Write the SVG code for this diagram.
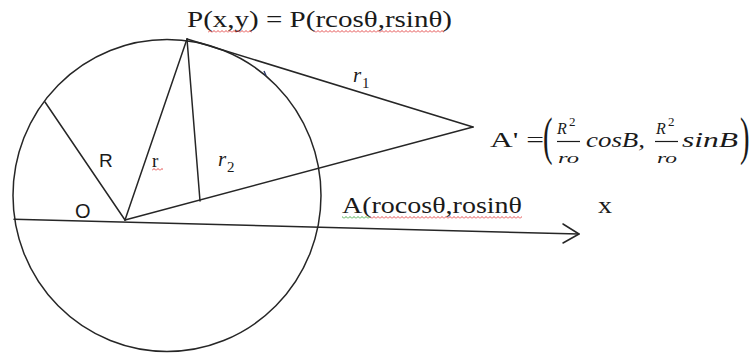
<svg xmlns="http://www.w3.org/2000/svg" width="754" height="358" viewBox="0 0 754 358">
<defs>
<style>
.ln{stroke:#262626;stroke-width:1.5;fill:none;stroke-linecap:round;stroke-linejoin:round}
.ser{font-family:"Liberation Serif","Times New Roman",serif;fill:#1a1a1a}
.san{font-family:"Liberation Sans",Arial,sans-serif;fill:#1a1a1a}
.it{font-family:"Liberation Serif","Times New Roman",serif;font-style:italic;fill:#1a1a1a}
</style>
<pattern id="sqR" patternUnits="userSpaceOnUse" width="4" height="3"><path d="M0,2.5 L2,0.5 L4,2.5" stroke="#e23a3a" stroke-width="0.9" fill="none"/></pattern>
<pattern id="sqG" patternUnits="userSpaceOnUse" width="4" height="3"><path d="M0,2.5 L2,0.5 L4,2.5" stroke="#3aa33a" stroke-width="0.9" fill="none"/></pattern>
</defs>
<rect width="754" height="358" fill="#ffffff"/>
<g id="circle">
<ellipse class="ln" cx="167" cy="195.5" rx="154" ry="156"/>
</g>
<g id="connectors">
<line class="ln" x1="45" y1="102" x2="125" y2="220"/>
<line class="ln" x1="125" y1="220" x2="187" y2="39"/>
<line class="ln" x1="187" y1="39" x2="200" y2="201"/>
<line class="ln" x1="125" y1="220" x2="473" y2="127"/>
<line class="ln" x1="187" y1="39" x2="473" y2="127"/>
<line class="ln" x1="14" y1="219.3" x2="579" y2="234"/>
<polyline class="ln" points="563,224 579,234 563,243"/>
<line x1="264" y1="71" x2="266" y2="75.5" stroke="#2b3a6a" stroke-width="1.4"/>
</g>
<g id="label-P">
<text class="ser" x="187" y="27" font-size="24" textLength="265" lengthAdjust="spacingAndGlyphs">P(x,y) = P(rcosθ,rsinθ)</text>
<rect x="208" y="30" width="44" height="3" fill="url(#sqR)"/>
<rect x="314" y="30" width="130" height="3" fill="url(#sqR)"/>
</g>
<g id="label-Aprime">
<text class="ser" x="490" y="147" font-size="22" textLength="54" lengthAdjust="spacingAndGlyphs">A' =</text>
<text class="ser" font-size="52" transform="translate(543,154) scale(0.55,1)">(</text>
<text class="it" x="557" y="134" font-size="16">R</text>
<text class="ser" x="569" y="126" font-size="13">2</text>
<line x1="557" y1="141.5" x2="580" y2="141.5" stroke="#1a1a1a" stroke-width="1.2"/>
<text class="it" x="558" y="163" font-size="15" textLength="21" lengthAdjust="spacingAndGlyphs">ro</text>
<text class="it" x="586" y="147" font-size="21" textLength="59" lengthAdjust="spacingAndGlyphs">cosB,</text>
<text class="it" x="656" y="134" font-size="16">R</text>
<text class="ser" x="668" y="126" font-size="13">2</text>
<line x1="655" y1="141.5" x2="678" y2="141.5" stroke="#1a1a1a" stroke-width="1.2"/>
<text class="it" x="657" y="163" font-size="15" textLength="20" lengthAdjust="spacingAndGlyphs">ro</text>
<text class="it" x="682" y="147" font-size="21" textLength="56" lengthAdjust="spacingAndGlyphs">sinB</text>
<text class="ser" font-size="52" transform="translate(740,154) scale(0.55,1)">)</text>
</g>
<g id="label-A">
<text class="ser" x="342" y="213" font-size="23" textLength="180" lengthAdjust="spacingAndGlyphs">A(rocosθ,rosinθ</text>
<rect x="342" y="216" width="28" height="3" fill="url(#sqG)"/>
<rect x="370" y="216" width="152" height="3" fill="url(#sqR)"/>
</g>
<g id="label-x">
<text class="ser" x="598" y="213" font-size="23" textLength="14" lengthAdjust="spacingAndGlyphs">x</text>
</g>
<g id="label-O">
<text class="san" x="75" y="218" font-size="20">O</text>
</g>
<g id="label-R">
<text class="san" x="99" y="167" font-size="19">R</text>
</g>
<g id="label-r">
<text class="ser" x="152" y="167" font-size="19">r</text>
<rect x="152" y="168" width="11" height="3" fill="url(#sqR)"/>
</g>
<g id="label-r2">
<text class="it" x="218" y="166" font-size="21">r</text>
<text class="ser" x="227" y="172" font-size="15">2</text>
</g>
<g id="label-r1">
<text class="it" x="353" y="82" font-size="21">r</text>
<text class="ser" x="362" y="88" font-size="15">1</text>
</g>
</svg>
